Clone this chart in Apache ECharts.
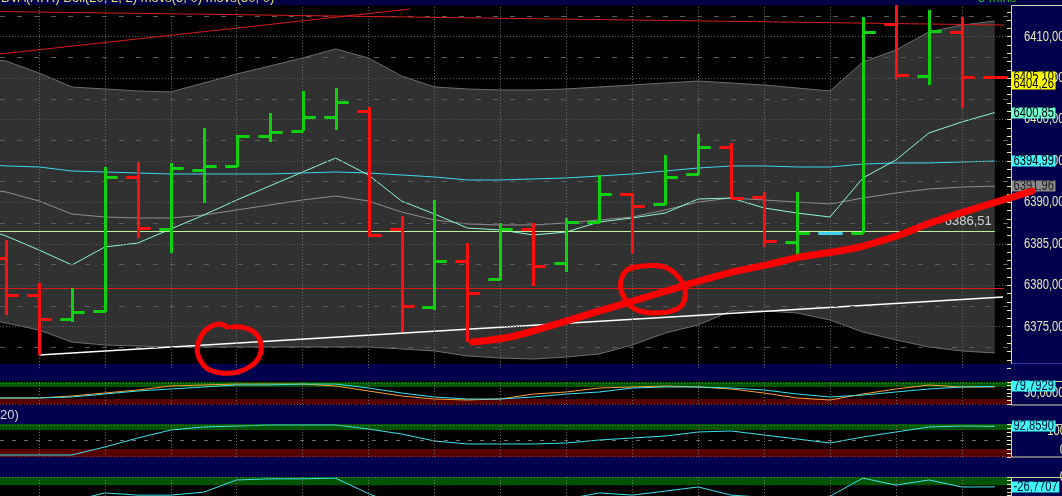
<!DOCTYPE html>
<html><head><meta charset="utf-8">
<script src="https://cdn.jsdelivr.net/npm/echarts@6/dist/echarts.min.js"></script>
<style>html,body{margin:0;padding:0;background:#000;overflow:hidden}#c{width:1062px;height:496px}</style>
</head><body><div id="c"></div>
<script>
// ---------------- data ----------------
const bars = [0,1,2,3,4,5,6,7,8,9,10,11,12,13,14,15,16,17,18,19,20,21,22,23,24,25,26,27,28,29,30];
const open  = [6383.30,6378.83,6375.93,6376.90,6393.07,6386.79,6393.91,6394.40,6398.02,6398.62,6400.31,6401.04,6386.79,6377.38,6382.94,6380.77,6386.79,6382.70,6387.64,6391.02,6389.81,6393.43,6396.69,6390.65,6385.22,6386.31,6386.31,6411.53,6405.26,6410.57,6405.14];
const high  = [6385.46,6380.28,6379.67,6394.28,6394.88,6394.76,6398.98,6398.14,6400.79,6403.45,6403.81,6401.52,6388.36,6390.29,6385.10,6387.52,6387.52,6388.12,6393.31,6391.14,6395.72,6398.26,6397.17,6391.26,6391.26,6386.43,6412.38,6413.90,6413.23,6412.38,6405.18];
const low   = [6376.41,6371.59,6375.57,6376.78,6385.71,6383.90,6389.93,6394.28,6397.29,6398.62,6398.74,6385.83,6374.36,6377.02,6373.15,6380.64,6379.92,6381.61,6387.52,6383.78,6389.69,6393.31,6390.53,6384.62,6383.54,6386.19,6386.31,6404.89,6404.17,6401.40,6405.06];
const close = [6378.83,6375.93,6376.78,6393.07,6386.91,6394.15,6394.40,6398.02,6398.50,6400.31,6402.12,6386.07,6377.50,6382.94,6379.07,6386.79,6382.34,6387.64,6391.02,6389.57,6393.07,6396.69,6390.53,6385.35,6386.31,6386.31,6410.57,6405.38,6410.69,6405.14,6405.10];

// indicator lines start one bar before the first visible bar
const lineIdx = [-1].concat(bars);
const bbUpper = [6407.43,6407.07,6405.62,6403.93,6403.69,6403.45,6403.33,6404.41,6405.50,6406.46,6407.43,6408.52,6407.43,6405.26,6403.93,6403.69,6403.57,6403.57,6403.69,6403.93,6404.17,6404.41,6404.65,6404.41,6404.17,6403.81,6403.45,6406.95,6408.39,6410.57,6411.41,6411.89];
const bbMid   = [6391.74,6391.26,6390.17,6388.60,6388.24,6388.12,6388.12,6388.48,6389.09,6389.69,6390.29,6390.77,6390.17,6388.84,6387.88,6387.40,6387.28,6387.28,6387.52,6387.88,6388.24,6389.09,6390.05,6390.53,6390.29,6390.05,6389.81,6390.53,6391.14,6391.62,6391.86,6391.96];
const bbLower = [6376.29,6375.45,6374.60,6373.15,6372.79,6372.67,6372.55,6372.55,6372.55,6372.55,6372.55,6372.55,6372.55,6372.31,6372.07,6371.47,6371.22,6371.10,6371.34,6371.71,6372.79,6374.24,6375.21,6376.90,6376.90,6376.66,6375.81,6374.36,6373.40,6372.55,6372.07,6371.83];
const ma5     = [6387.28,6385.95,6384.26,6382.45,6384.62,6385.10,6386.79,6388.48,6390.29,6391.98,6393.67,6395.36,6393.31,6390.17,6388.60,6386.91,6386.67,6386.07,6386.43,6387.64,6388.12,6388.72,6390.41,6390.53,6389.33,6388.72,6388.24,6392.95,6395.12,6398.38,6399.71,6400.85];
const ma50    = [6394.63,6394.40,6394.28,6393.79,6393.67,6393.55,6393.43,6393.43,6393.43,6393.43,6393.55,6393.67,6393.55,6393.31,6393.07,6392.71,6392.71,6392.83,6392.95,6393.19,6393.43,6393.79,6394.15,6394.40,6394.40,6394.28,6394.28,6394.63,6394.76,6394.76,6394.88,6394.99];

const stochK = [27.3,27.3,27.3,31.8,45.5,59.1,68.2,77.3,86.4,86.4,90.9,90.9,72.7,50.0,31.8,22.7,22.7,31.8,45.5,54.5,72.7,77.3,77.3,72.7,63.6,45.5,31.8,40.9,54.5,68.2,77.3,79.7929];
const stochD = [22.7,27.3,27.3,36.4,50.0,63.6,81.8,86.4,90.9,90.9,90.9,81.8,59.1,36.4,22.7,18.2,22.7,45.5,54.5,72.7,77.3,81.8,77.3,68.2,50.0,27.3,18.2,45.5,68.2,86.4,77.3,77.3];
const rsi    = [6.1,6.1,6.1,6.1,30.3,57.6,81.8,90.9,93.9,97.0,97.0,97.0,84.8,69.7,48.5,39.4,39.4,39.4,42.4,51.5,57.6,63.6,75.8,78.8,66.7,54.5,42.4,60.6,75.8,90.9,93.9,92.859];
const wr     = [-70,-75,-85,-65,-43,-49,-49,-41,-8,-5,-5,-3,-45,-80,-60,-85,-62,-70,-60,-43,-49,-38,-27,-49,-55,-58,-52,-3,-22,-8,-27,-26.7707];

const mainTicks = [6375, 6380, 6385, 6390, 6395, 6400, 6405, 6410];
const refLevel = 6404.26;
const greenLevel = 6386.51;
const redLevel = 6379.67;
const trendRedTop  = [[-0.18, 6413.04], [30.28, 6411.41]];
const trendRedDiag = [[-0.18, 6407.91], [12.26, 6413.34]];
const trendWhite   = [[1, 6371.59], [30.25, 6378.59]];
const greenSpan = [-0.18, 30.0];
const redSpan = [-0.18, 30.28];

const penStroke = [[14.17,6373.15],[15.29,6373.76],[16.41,6374.97],[17.81,6376.66],[18.84,6377.87],[19.84,6379.07],[20.84,6380.28],[22.06,6381.61],[23.09,6382.46],[24.09,6383.42],[25.09,6384.02],[25.91,6384.62],[26.43,6385.22],[27.12,6386.07],[28.04,6387.52],[29.55,6389.45],[31.13,6391.37]];
const penCircle1 = [[6.86,6374.97],[7.28,6374.84],[7.59,6374.12],[7.74,6372.79],[7.68,6371.34],[7.43,6370.26],[7.04,6369.53],[6.55,6369.41],[6.13,6369.89],[5.89,6370.98],[5.80,6372.31],[5.92,6373.88],[6.19,6374.97],[6.49,6375.33],[6.71,6374.97]];
const penCircle2 = [[18.84,6381.84],[19.33,6382.33],[20.05,6382.09],[20.51,6380.40],[20.60,6378.47],[20.36,6377.15],[19.63,6376.66],[19.02,6377.27],[18.69,6379.07],[18.66,6380.64],[18.84,6381.84],[19.08,6382.21]];

const headerText = 'BVA(ATR) Boll(20, 2, 2) movs(5, 0) movs(50, 0)';
const periodText = '5 mins';
const panel2Title = '20)';

// ---------------- chart ----------------
const NAVY = '#00004f';
const PALE = '#e9e8b4';
const FONT = "'Liberation Sans', Arial, sans-serif";
const LFONT = "14px 'Liberation Sans', Arial, sans-serif";
const SX = 0.8;
const RED = '#ff1010', GREEN = '#10d010', DOJI = '#3fd0f0';
const X_MIN = -0.182, X_MAX = 30.492;
const fmt = (v, d) => v.toFixed(d).replace('.', ',');
const pts = (xs, ys) => ys.map((v, i) => [xs[i], v]);
const last = a => a[a.length - 1];
const oddBars = bars.filter(b => b % 2 === 1);
const vLines = oddBars.map(b => ({xAxis: b, lineStyle: {color: '#6e6e6e', type: [1, 2], width: 1}}));

const hLines = [];
for (let v = 6372.5; v <= 6412.5; v += 2.5) {
  const dotted = Math.abs(v % 5) < 1e-6;
  hLines.push({yAxis: v, lineStyle: {color: '#5c5c5c', width: 1, type: dotted ? [1, 2] : [5, 12]}});
}

const grids = [
  {left: 0, width: 1011, top: 3.556, height: 364.58, outerBoundsMode: 'none', containLabel: false},
  {left: 0, width: 1011, top: 382, height: 22, outerBoundsMode: 'none', containLabel: false},
  {left: 0, width: 1011, top: 424, height: 33, outerBoundsMode: 'none', containLabel: false},
  {left: 0, width: 1011, top: 477, height: 37, outerBoundsMode: 'none', containLabel: false}
];
const xAxes = grids.map((g, i) => ({type: 'value', gridIndex: i, min: X_MIN, max: X_MAX, show: false}));

function dataAxis(gi, min, max) {
  return {type: 'value', gridIndex: gi, min, max, position: 'right',
    axisLine: {show: false, onZero: false}, axisTick: {show: false}, axisLabel: {show: false}, splitLine: {show: false}};
}
function tickAxis(gi, min, max, interval, len) {
  return {type: 'value', gridIndex: gi, min, max, interval, position: 'right', z: 5,
    axisLine: {show: false, onZero: false},
    axisTick: {show: true, inside: true, length: len, lineStyle: {color: PALE, width: 1}},
    axisLabel: {show: false}, splitLine: {show: false}};
}
const yAxes = [
  dataAxis(0, 6370, 6414), tickAxis(0, 6370, 6414, 1, 4),
  dataAxis(1, 0, 100), tickAxis(1, 0, 100, 100 / 6, 4),
  dataAxis(2, 0, 100), tickAxis(2, 0, 100, 12.5, 4),
  dataAxis(3, -100, 0), tickAxis(3, -100, 0, 10, 4)
];

function plainLine(xi, yi, data, color, width, z, extra) {
  return Object.assign({type: 'line', xAxisIndex: xi, yAxisIndex: yi, data, symbol: 'none', silent: true, z: z,
    lineStyle: {color, width}}, extra || {});
}
function bandHost(xi, yi, data, areas, lines) {
  return {type: 'line', xAxisIndex: xi, yAxisIndex: yi, z: 1, silent: true, symbol: 'none', data,
    lineStyle: {color: 'rgba(0,0,0,0)', width: 0},
    markArea: {silent: true, data: areas.map(a => [{yAxis: a[0], itemStyle: {color: a[2]}}, {yAxis: a[1]}])},
    markLine: {silent: true, symbol: 'none', label: {show: false}, data: vLines.concat(lines)}};
}
const GBAND = '#005400', RBAND = '#560000';
const dotG = v => ({yAxis: v, lineStyle: {color: '#2aa02a', type: [1, 2], width: 1}});
const dotR = v => ({yAxis: v, lineStyle: {color: '#b02828', type: [1, 2], width: 1}});

const series = [
  // Bollinger fill
  {type: 'custom', xAxisIndex: 0, yAxisIndex: 0, z: 2, silent: true, data: [[15, 6390]],
    renderItem: (params, api) => {
      const up = lineIdx.map((x, i) => api.coord([x, bbUpper[i]]));
      const lo = lineIdx.map((x, i) => api.coord([x, bbLower[i]])).reverse();
      return {type: 'polygon', shape: {points: up.concat(lo)}, style: {fill: '#313131'}};
    }},
  plainLine(0, 0, pts(lineIdx, bbUpper), '#6e6e6e', 1, 3, {
    markLine: {silent: true, symbol: 'none', label: {show: false}, data: vLines.concat(hLines)}}),
  plainLine(0, 0, pts(lineIdx, bbLower), '#6e6e6e', 1, 3),
  plainLine(0, 0, pts(lineIdx, bbMid), '#8e8e8e', 1, 3),
  plainLine(0, 0, pts(lineIdx, ma50), '#3fd9ec', 1, 3),
  plainLine(0, 0, pts(lineIdx, ma5), '#8af7d2', 1, 3),
  // drawn trend lines
  plainLine(0, 0, trendWhite, '#ffffff', 1.6, 3, {
    markLine: {silent: true, symbol: 'none', animation: false, data: [
      [{coord: trendRedTop[0], lineStyle: {color: '#d81c1c', width: 1, type: 'solid'}, label: {show: false}}, {coord: trendRedTop[1]}],
      [{coord: trendRedDiag[0], lineStyle: {color: '#d81c1c', width: 1, type: 'solid'}, label: {show: false}}, {coord: trendRedDiag[1]}],
      [{coord: [redSpan[0], redLevel], lineStyle: {color: '#d81c1c', width: 1, type: 'solid'}, label: {show: false}}, {coord: [redSpan[1], redLevel]}],
      [{coord: [greenSpan[0], greenLevel], lineStyle: {color: '#bff2a0', width: 1, type: 'solid'},
        label: {show: true, position: 'insideEndTop', distance: 3, formatter: fmt(greenLevel, 2), color: '#cfcfcf', fontFamily: FONT, fontSize: 13}},
       {coord: [greenSpan[1], greenLevel]}]
    ]}}),
  // OHLC bars
  {type: 'custom', xAxisIndex: 0, yAxisIndex: 0, z: 5, silent: true,
    data: bars.map((b, i) => [b, open[i], high[i], low[i], close[i]]),
    encode: {x: 0, y: [1, 2, 3, 4]},
    renderItem: (params, api) => {
      const x = api.value(0), o = api.value(1), h = api.value(2), l = api.value(3), c = api.value(4);
      const color = c > o ? GREEN : (c < o ? RED : DOJI);
      const w = api.size([1, 0])[0] * 0.37;
      const px = Math.round(api.coord([x, h])[0]) + 0.5;
      const yh = api.coord([x, h])[1], yl = api.coord([x, l])[1];
      const yo = Math.round(api.coord([x, o])[1]) + 0.5, yc = Math.round(api.coord([x, c])[1]) + 0.5;
      const st = {stroke: color, lineWidth: 3};
      const ch = [
        {type: 'line', shape: {x1: px - w, y1: yo, x2: px, y2: yo}, style: st},
        {type: 'line', shape: {x1: px, y1: yc, x2: px + w, y2: yc}, style: st}
      ];
      if (yl - yh > 1) ch.push({type: 'line', shape: {x1: px, y1: yh, x2: px, y2: yl}, style: st});
      return {type: 'group', children: ch};
    }},
  // hand-drawn annotations, projected through the axes, on their own layer
  {type: 'custom', xAxisIndex: 0, yAxisIndex: 0, zlevel: 1, z: 8, silent: true, clip: false, data: [[15, 6390]],
    renderItem: (params, api) => {
      const mk = (arr, w, sm) => ({type: 'polyline',
        shape: {points: arr.map(p => api.coord(p)), smooth: sm},
        style: {stroke: '#ff0000', lineWidth: w, lineCap: 'round', lineJoin: 'round', fill: null}});
      return {type: 'group', children: [mk(penStroke, 7, 0.3), mk(penCircle1, 5, 0.4), mk(penCircle2, 5, 0.4)]};
    }},

  // panel 1: stochastic
  bandHost(1, 2, pts(lineIdx, stochD), [[77, 100, GBAND], [0, 23, RBAND]], [dotG(96), dotR(1)]),
  plainLine(1, 2, pts(lineIdx, stochD), '#ff9c38', 1, 3),
  plainLine(1, 2, pts(lineIdx, stochK), '#3fe2ea', 1, 3),
  // panel 2
  bandHost(2, 4, pts(lineIdx, rsi), [[82, 100, GBAND], [0, 24, RBAND]],
    [dotG(97), dotR(1), {yAxis: 50, lineStyle: {color: '#6e6e6e', type: [4, 8], width: 1}}]),
  plainLine(2, 4, pts(lineIdx, rsi), '#3fe2ea', 1, 3),
  // panel 3
  bandHost(3, 6, pts(lineIdx, wr), [[-22, 0, GBAND], [-100, -78, RBAND]], [dotG(-2)]),
  plainLine(3, 6, pts(lineIdx, wr), '#3fe2ea', 1, 3)
];

const boxStroke = '#d8d6a0';
const baseGraphic = [
  {type: 'rect', z: 4, silent: true, shape: {x: 0, y: 364, width: 1062, height: 17}, style: {fill: NAVY}},
  {type: 'rect', z: 4, silent: true, shape: {x: 0, y: 405, width: 1062, height: 19}, style: {fill: NAVY}},
  {type: 'rect', z: 4, silent: true, shape: {x: 0, y: 457, width: 1062, height: 20}, style: {fill: NAVY}},
  {type: 'rect', z: 4, silent: true, shape: {x: 1011, y: 0, width: 51, height: 496}, style: {fill: NAVY}},
  {type: 'rect', z: 6, silent: true, shape: {x: 1011.5, y: 5.5, width: 60, height: 358}, style: {fill: 'none', stroke: boxStroke, lineWidth: 1}},
  {type: 'line', z: 6, silent: true, shape: {x1: 1012, y1: 363.5, x2: 1062, y2: 363.5}, style: {stroke: '#2a3aa8', lineWidth: 1}},
  {type: 'rect', z: 6, silent: true, shape: {x: 1011.5, y: 381.5, width: 60, height: 23.5}, style: {fill: 'none', stroke: boxStroke, lineWidth: 1}},
  {type: 'rect', z: 6, silent: true, shape: {x: 1011.5, y: 424.5, width: 60, height: 32.5}, style: {fill: 'none', stroke: boxStroke, lineWidth: 1}},
  {type: 'rect', z: 6, silent: true, shape: {x: 1011.5, y: 477.5, width: 60, height: 30}, style: {fill: 'none', stroke: boxStroke, lineWidth: 1}},
  {type: 'rect', z: 9, silent: true, shape: {x: 0, y: 0, width: 1062, height: 5}, style: {fill: '#000046'}},
  {type: 'text', z: 10, silent: true, x: 1, y: 5, style: {text: headerText, fill: '#e8e27a', font: '13px ' + FONT,
    verticalAlign: 'bottom', textVerticalAlign: 'bottom'}},
  {type: 'text', z: 10, silent: true, x: 978, y: 5, style: {text: periodText, fill: '#22bb22', font: '13px ' + FONT,
    verticalAlign: 'bottom', textVerticalAlign: 'bottom'}},
  {type: 'text', z: 10, silent: true, x: 0, y: 415, style: {text: panel2Title, fill: '#d8d8d8', font: '13px ' + FONT,
    verticalAlign: 'middle', textVerticalAlign: 'middle'}}
];

const chart = echarts.init(document.getElementById('c'), null, {renderer: 'canvas', width: 1062, height: 496});
chart.setOption({
  backgroundColor: '#000',
  animation: false,
  grid: grids,
  xAxis: xAxes,
  yAxis: yAxes,
  series: series,
  graphic: baseGraphic
});

// ---- right-hand axis texts and value boxes, placed through the axis scales ----
const mctx = document.createElement('canvas').getContext('2d');
const textW = t => { mctx.font = LFONT; return mctx.measureText(t).width * SX; };
const yPix = (axisIdx, v) => chart.convertToPixel({yAxisIndex: axisIdx}, v);
let zc = 0;
function axisText(axisIdx, v, text, align, x, vAlign) {
  return {type: 'text', z: 5, z2: zc++, silent: true, x: x, y: yPix(axisIdx, v), scaleX: SX,
    style: {text, font: LFONT, fill: PALE, align: align, textAlign: align, verticalAlign: vAlign || 'middle', textVerticalAlign: vAlign || 'middle'}};
}
function valueBox(axisIdx, v, text, bg, fg) {
  const w = textW(text) + 3;
  return {type: 'group', z: 7, silent: true, x: 1012, y: Math.round(yPix(axisIdx, v)), children: [
    {type: 'rect', z: 7, z2: zc++, shape: {x: 0, y: -5.5, width: w, height: 11}, style: {fill: bg}},
    {type: 'text', z: 7, z2: zc++, x: 1.5, y: 0.5, scaleX: SX,
      style: {text, font: LFONT, fill: fg || '#000', verticalAlign: 'middle', textVerticalAlign: 'middle'}}
  ]};
}
const extra = [];
mainTicks.forEach(v => extra.push(axisText(0, v, fmt(v, 2), 'left', 1024)));
extra.push(axisText(2, 50, fmt(50, 4), 'left', 1024));
extra.push(axisText(4, 100, '100', 'right', 1066, 'top'));
extra.push(axisText(4, 0, '0', 'right', 1066, 'bottom'));
extra.push(axisText(6, 0, '0', 'right', 1066, 'middle'));
extra.push(valueBox(0, last(close), fmt(last(close), 2), '#ffff00'));
extra.push(valueBox(0, refLevel, fmt(refLevel, 2), '#ffff00'));
extra.push(valueBox(0, last(ma5), fmt(last(ma5), 2), '#70ffd2'));
extra.push(valueBox(0, last(ma50), fmt(last(ma50), 2), '#3ff6ff'));
extra.push(valueBox(0, last(bbMid), fmt(last(bbMid), 2), '#8a8a8a', '#1a1a1a'));
extra.push(valueBox(2, last(stochK), fmt(last(stochK), 4), '#3ff6f6', '#001030'));
extra.push(valueBox(4, last(rsi), fmt(last(rsi), 4), '#3ff6f6', '#001030'));
extra.push(valueBox(6, last(wr), fmt(last(wr), 4), '#3ff6f6', '#001030'));
chart.setOption({graphic: baseGraphic.concat(extra)});
</script>
</body></html>
